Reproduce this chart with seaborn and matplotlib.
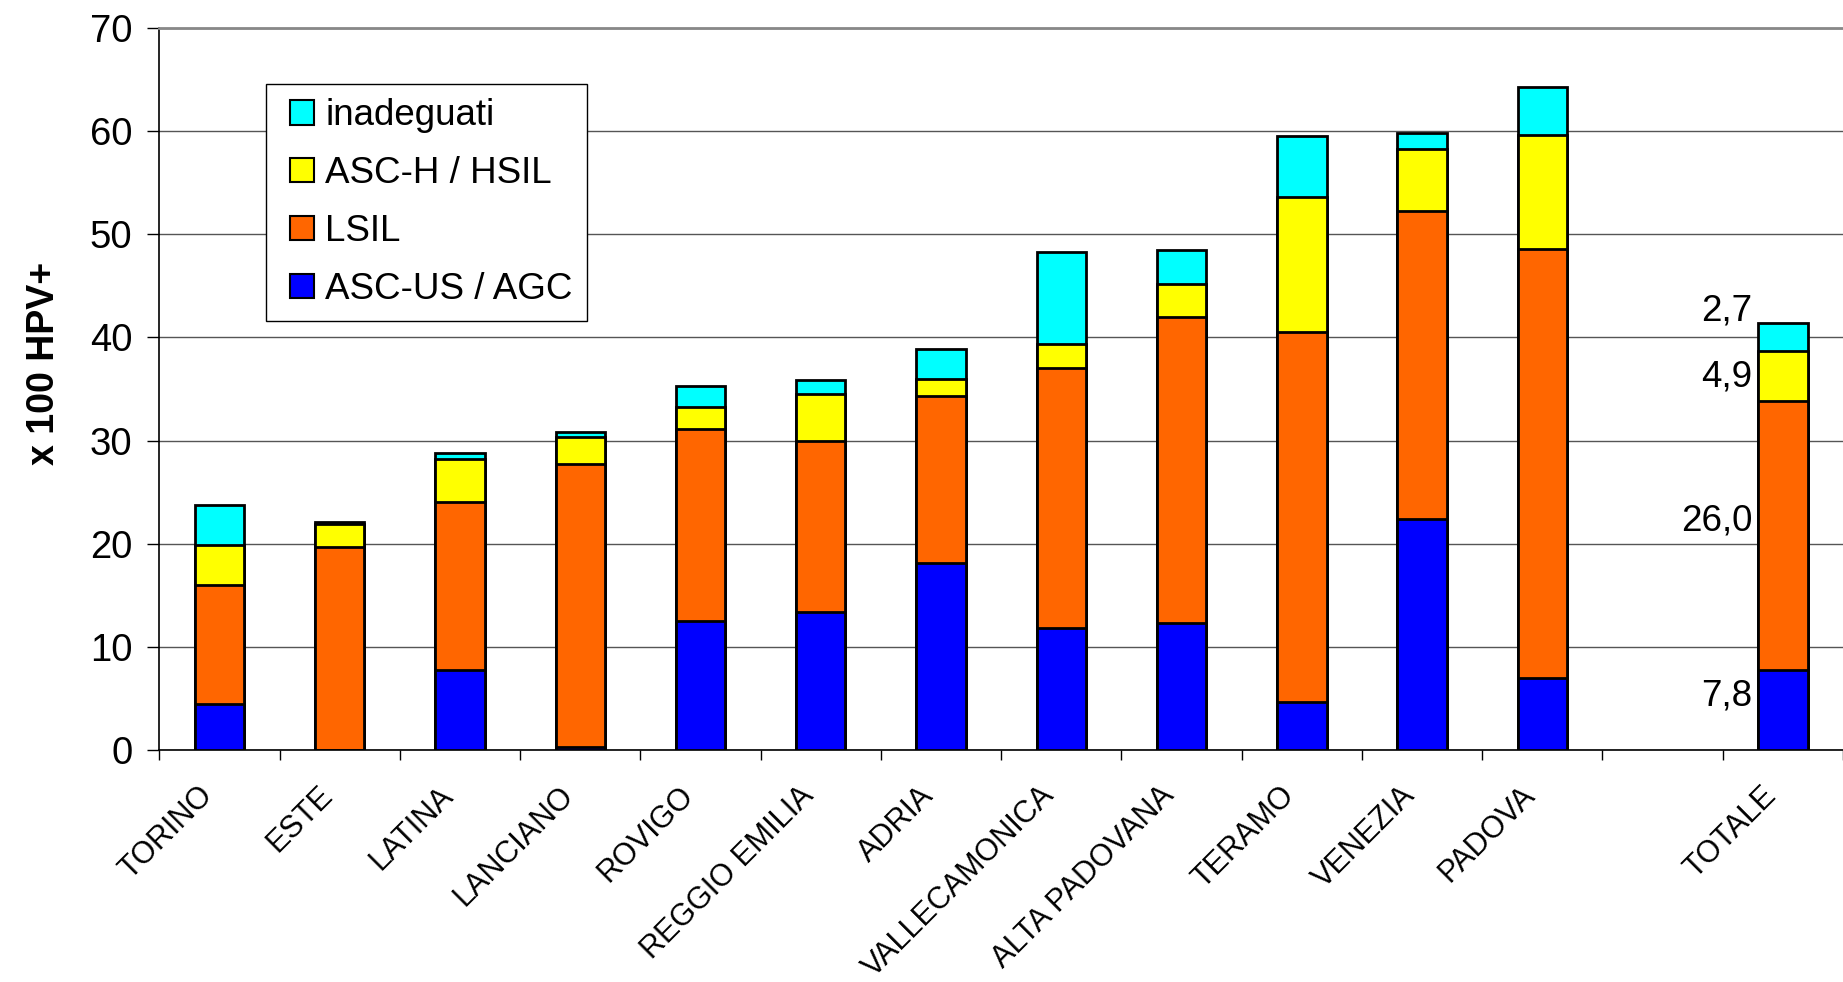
import numpy as np
import pandas as pd
import matplotlib
matplotlib.use("Agg")
import matplotlib.pyplot as plt
import matplotlib.transforms as mtransforms
from matplotlib.legend_handler import HandlerPatch
import seaborn as sns
from matplotlib.patches import Patch

categories = ["TORINO", "ESTE", "LATINA", "LANCIANO", "ROVIGO", "REGGIO EMILIA",
              "ADRIA", "VALLECAMONICA", "ALTA PADOVANA", "TERAMO", "VENEZIA",
              "PADOVA", "TOTALE"]
asc_us_agc = [4.5, 0.0, 7.8, 0.3, 12.5, 13.4, 18.15, 11.8, 12.3, 4.65, 22.35, 7.0, 7.8]
lsil       = [11.5, 19.7, 16.2, 27.45, 18.6, 16.55, 16.15, 25.2, 29.7, 35.9, 29.95, 41.6, 26.0]
asc_h_hsil = [3.9, 2.25, 4.25, 2.6, 2.2, 4.55, 1.7, 2.4, 3.2, 13.05, 5.95, 11.05, 4.9]
inadeguati = [3.85, 0.15, 0.5, 0.45, 2.0, 1.4, 2.9, 8.9, 3.25, 5.95, 1.6, 4.6, 2.7]
series_names = ["ASC-US / AGC", "LSIL", "ASC-H / HSIL", "inadeguati"]
series_colors = ["#0000FF", "#FF6600", "#FFFF00", "#00FFFF"]
totale_labels = ["7,8", "26,0", "4,9", "2,7"]
yticks = [0, 10, 20, 30, 40, 50, 60, 70]

# order with an empty slot before TOTALE
order = categories[:-1] + [" "] + [categories[-1]]

sns.set_theme(style="white")
plt.rcParams["font.family"] = ["Liberation Sans", "DejaVu Sans"]
plt.rcParams.update({"text.color": "black", "axes.labelcolor": "black",
                     "xtick.color": "black", "ytick.color": "black"})

df = pd.DataFrame({"cat": categories, "s0": asc_us_agc, "s1": lsil,
                   "s2": asc_h_hsil, "s3": inadeguati})
cols = ["s0", "s1", "s2", "s3"]
cum = df[cols].cumsum(axis=1)

fig = plt.figure(figsize=(18.43, 9.82), dpi=100)
ax = fig.add_axes([0.0865, 0.2363, 0.9135, 0.7352])

for i in range(3, -1, -1):
    sns.barplot(x=df["cat"], y=cum[cols[i]], order=order, color=series_colors[i],
                saturation=1, width=0.41, edgecolor="black", linewidth=2,
                ax=ax, zorder=3)

ax.set_xlim(-0.5, 13.5)
ax.set_ylim(0, 70)
ax.set_yticks(yticks)
ax.set_yticklabels([str(v) for v in yticks], fontsize=27.5, color="black")
ax.grid(axis="y", color="#555555", linewidth=1, zorder=0)
ax.grid(axis="x", visible=False)

# x ticks: labels at centres, marks at slot boundaries
ax.set_xticks(range(len(order)))
ax.set_xticklabels(order, rotation=45, ha="right", rotation_mode="anchor",
                   fontsize=22, color="black")
ax.tick_params(axis="x", which="major", length=0, pad=22)
shift = mtransforms.ScaledTranslation(-22 / 100, 0, fig.dpi_scale_trans)
for lab in ax.get_xticklabels():
    lab.set_transform(lab.get_transform() + shift)
ax.set_xticks(np.arange(-0.5, 13.6, 1.0), minor=True)
ax.tick_params(axis="x", which="minor", length=7, width=1, color="black", direction="out", bottom=True)
ax.tick_params(axis="y", length=8.5, width=1, color="black", direction="out", left=True, pad=11)

for s in ["left", "bottom"]:
    ax.spines[s].set_color("black")
    ax.spines[s].set_linewidth(1.2)
ax.spines["right"].set_visible(False)
ax.spines["top"].set_color("#888888")
ax.spines["top"].set_linewidth(2)

ax.set_xlabel("")
ax.set_ylabel("x 100 HPV+", fontsize=27, fontweight="bold", color="black")
ax.yaxis.set_label_coords(-0.0577, 0.535)

# TOTALE value labels
tx = order.index("TOTALE")
tot_vals = [asc_us_agc[-1], lsil[-1], asc_h_hsil[-1], inadeguati[-1]]
tot_cum = np.cumsum(tot_vals)
centers = tot_cum - np.array(tot_vals) / 2
offsets = [1.3, 1.4, -0.1, 2.5]
for c, off, lab in zip(centers, offsets, totale_labels):
    ax.text(tx - 0.255, c + off, lab, ha="right", va="center", fontsize=26.5,
            color="black", zorder=5)

handles = [Patch(facecolor=series_colors[i], edgecolor="black", linewidth=1.5,
                 label=series_names[i]) for i in range(3, -1, -1)]
hpad = 0.27
leg = ax.legend(handles=handles, loc="upper left", bbox_to_anchor=(0.0635, 0.922),
                fontsize=26.5, frameon=True, fancybox=False, framealpha=1,
                edgecolor="black", handlelength=0.65 + hpad, handleheight=0.65,
                handletextpad=0.3, labelspacing=0.62, borderpad=0.38,
                borderaxespad=0, handler_map={Patch: HandlerPatch(xpad=hpad)})
leg.get_frame().set_linewidth(1)
for t in leg.get_texts():
    t.set_color("black")
leg.set_zorder(10)

fig.savefig("out.png", dpi=100, facecolor="white")
